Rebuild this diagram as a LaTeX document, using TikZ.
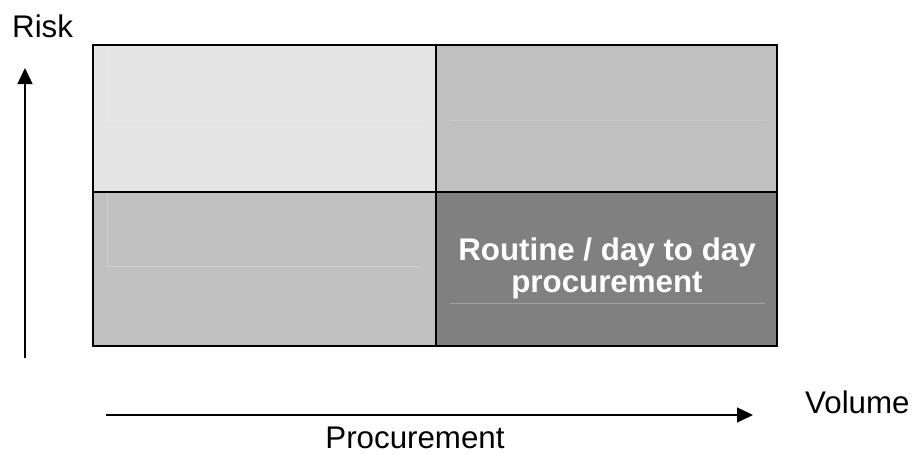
\documentclass[tikz,border=0pt]{standalone}
\usepackage{fontspec}
\setmainfont{Liberation Sans}
\usetikzlibrary{arrows.meta}
\definecolor{cellA}{HTML}{E4E4E4}
\definecolor{cellB}{HTML}{C0C0C0}
\definecolor{cellC}{HTML}{808080}
\tikzset{
  cell/.style={draw=black, line width=1.5pt, inner sep=0pt, outer sep=0pt},
  faint/.style={line width=0.8pt},
  axis/.style={line width=1.4pt, -{Triangle[length=16pt,width=15pt]}},
  lbl/.style={font=\fontsize{31.3}{34}\selectfont, inner sep=0pt},
}
\begin{document}
\begin{tikzpicture}[x=1pt,y=-1pt]
\useasboundingbox (0,0) rectangle (915,453);
% cells
\node[cell, fill=cellA, minimum width=343pt, minimum height=147pt, anchor=north west] (tl) at (93,45) {};
\node[cell, fill=cellB, minimum width=341pt, minimum height=147pt, anchor=north west] (tr) at (436,45) {};
\node[cell, fill=cellB, minimum width=343pt, minimum height=154pt, anchor=north west] (bl) at (93,192) {};
\node[cell, fill=cellC, minimum width=341pt, minimum height=154pt, anchor=north west] (br) at (436,192) {};
% faint inner text-box traces
\draw[faint, draw=white!20!cellA] (107,48) -- (107,120) -- (421,120);
\draw[faint, draw=white!15!cellB] (450,120) -- (765,120);
\draw[faint, draw=white!25!cellB] (107,194) -- (107,266) -- (421,266);
\draw[faint, draw=white!25!cellC] (450,303) -- (765,303);
% redraw borders on top
\draw[line width=1.5pt] (tl.north west) rectangle (br.south east);
\draw[line width=1.5pt] (tl.north east) -- (br.south west -| tl.north east);
\draw[line width=1.5pt] (tl.south west) -- (tl.south west -| br.south east);
% label in bottom-right cell
\node[lbl, text=white, font=\fontsize{31.3}{32}\selectfont\bfseries, align=center] (rt) at (607,268) {Routine / day to day\\procurement};
% axes
\coordinate (ybot) at (25,358);
\coordinate (ytop) at (25,68);
\coordinate (xleft) at (106,415);
\coordinate (xright) at (753,415);
\draw[axis] (ybot) -- (ytop);
\draw[axis] (xleft) -- (xright);
\node[lbl, anchor=base west] (risk) at (12,37) {Risk};
\node[lbl, anchor=base west] (vol) at (805,413) {Volume};
\node[lbl, anchor=base] (proc) at (415,448) {Procurement};
\end{tikzpicture}
\end{document}
